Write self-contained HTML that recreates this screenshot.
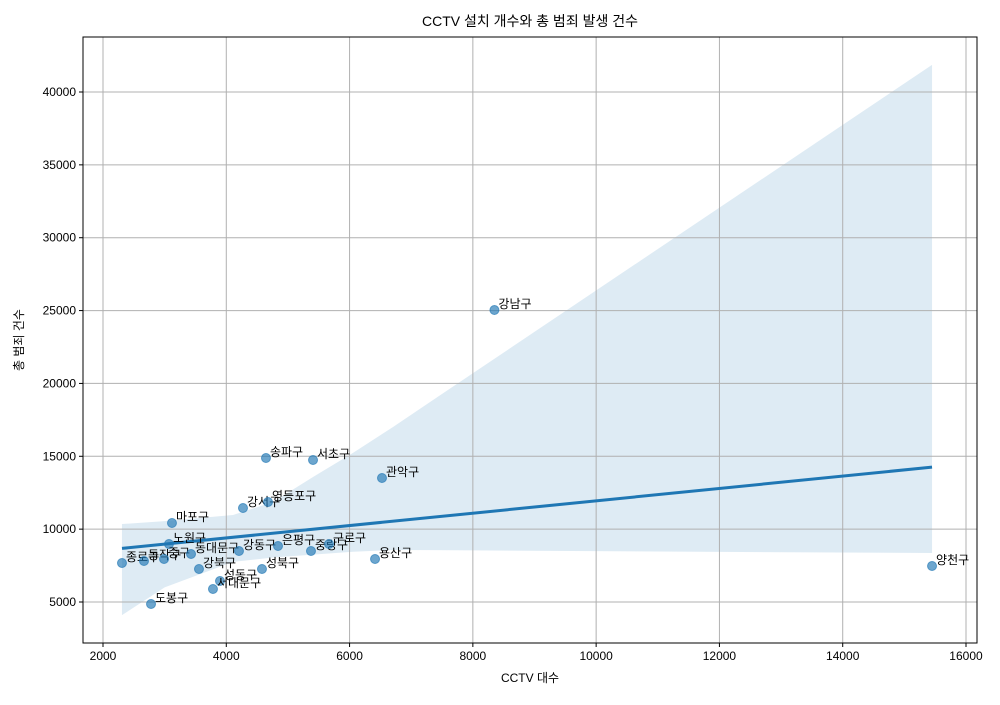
<!DOCTYPE html>
<html><head><meta charset="utf-8"><style>
body{margin:0;background:#fff;}
svg text{font-family:"Liberation Sans","Noto Sans CJK KR",sans-serif;}
</style></head><body>
<svg id="chart" width="1000" height="700"></svg>
<script>
const names=["강남구","송파구","서초구","관악구","강서구","영등포구","마포구","노원구","종로구","동작구","중구","동대문구","강북구","강동구","은평구","중랑구","구로구","용산구","성북구","성동구","서대문구","도봉구","양천구"];
const cctv=[8350,4644,5407,6526,4271,4677,3119,3070,2308,2665,2990,3428,3557,4206,4839,5374,5666,6413,4579,3898,3784,2779,15449];
const crimes=[25040,14883,14745,13510,11451,11863,10422,8980,7676,7814,7951,8294,7265,8500,8843,8500,8980,7951,7265,6441,5892,4863,7471];
const bandX=[2308,3000,4109,4758,5407,6056,6705,7354,8003,15449];
const bandUpper=[10350,10550,10970,11860,13580,15230,17010,18860,20710,41860];
const bandLower=[4100,6000,7750,8050,8250,8450,8570,8560,8540,8360];
const xTicks=[2000,4000,6000,8000,10000,12000,14000,16000];
const yTicks=[5000,10000,15000,20000,25000,30000,35000,40000];
const NS="http://www.w3.org/2000/svg";
const svg=document.getElementById("chart");
const L=83,R=977,T=37,B=643;
const xs=v=>103+(v-2000)*0.0616428;
const ys=v=>602-(v-5000)*0.0145714;
function mk(tag,attrs,parent){const e=document.createElementNS(NS,tag);for(const k in attrs)e.setAttribute(k,attrs[k]);(parent||svg).appendChild(e);return e;}
// band
let pts=bandX.map((x,i)=>xs(x)+","+ys(bandUpper[i]));
for(let i=bandX.length-1;i>=0;i--)pts.push(xs(bandX[i])+","+ys(bandLower[i]));
const band=mk("polygon",{points:pts.join(" "),fill:"#1f77b4","fill-opacity":"0.15"});


// grid
xTicks.forEach(t=>{const g=mk("line",{x1:xs(t),x2:xs(t),y1:T,y2:B,stroke:"#b0b0b0","stroke-width":1});


mk("line",{x1:xs(t),x2:xs(t),y1:B,y2:B+4,stroke:"#000"});
const tx=mk("text",{x:xs(t),y:B+17,"text-anchor":"middle","font-size":12});tx.textContent=t;

});
yTicks.forEach(t=>{const g=mk("line",{x1:L,x2:R,y1:ys(t),y2:ys(t),stroke:"#b0b0b0","stroke-width":1});


mk("line",{x1:L-4,x2:L,y1:ys(t),y2:ys(t),stroke:"#000"});
const tx=mk("text",{x:L-7,y:ys(t)+4,"text-anchor":"end","font-size":12});tx.textContent=t;

});
// regression
const n=cctv.length;const mx=cctv.reduce((a,b)=>a+b)/n,my=crimes.reduce((a,b)=>a+b)/n;
let sxy=0,sxx=0;for(let i=0;i<n;i++){sxy+=(cctv[i]-mx)*(crimes[i]-my);sxx+=(cctv[i]-mx)**2;}
const slope=sxy/sxx,ic=my-slope*mx;const x0=Math.min(...cctv),x1=Math.max(...cctv);
const rl=mk("line",{x1:xs(x0),y1:ys(ic+slope*x0),x2:xs(x1),y2:ys(ic+slope*x1),stroke:"#1f77b4","stroke-width":3});


// points
names.forEach((nm,i)=>{const c=mk("circle",{cx:xs(cctv[i]),cy:ys(crimes[i]),r:4.5,fill:"#1f77b4","fill-opacity":"0.65",stroke:"#1f77b4","stroke-opacity":"0.65"});


const t=mk("text",{x:xs(cctv[i])+4,y:ys(crimes[i])-2,"font-size":12});t.textContent=nm;

});
// frame
const fr=mk("rect",{x:L,y:T,width:R-L,height:B-T,fill:"none",stroke:"#000","stroke-width":1});


const ti=mk("text",{x:(L+R)/2,y:26,"text-anchor":"middle","font-size":14});ti.textContent="CCTV 설치 개수와 총 범죄 발생 건수";


const xl=mk("text",{x:(L+R)/2,y:682,"text-anchor":"middle","font-size":12});xl.textContent="CCTV 대수";


const yl=mk("text",{x:0,y:0,"text-anchor":"middle","font-size":12,transform:"translate(23,340) rotate(-90)"});yl.textContent="총 범죄 건수";


</script>
</body></html>
